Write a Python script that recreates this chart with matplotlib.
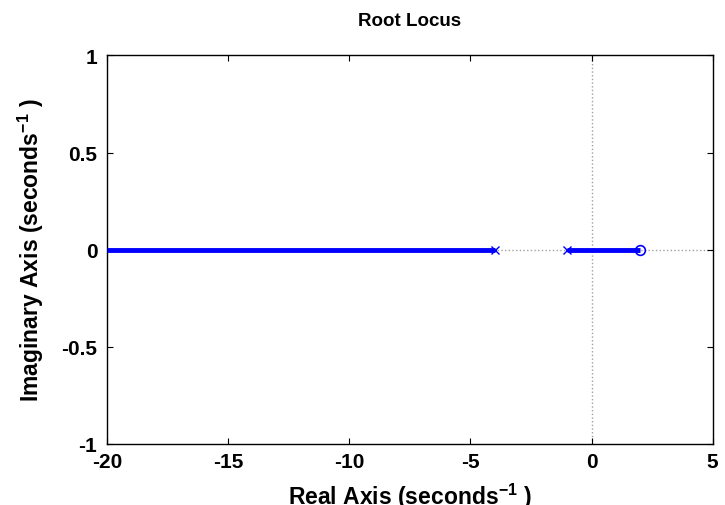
import matplotlib
matplotlib.use("Agg")
import matplotlib.pyplot as plt
import numpy as np

plt.rcParams['font.family'] = ['Liberation Sans', 'DejaVu Sans']
plt.rcParams['font.weight'] = 'bold'
plt.rcParams['mathtext.fontset'] = 'custom'
plt.rcParams['mathtext.rm'] = 'Liberation Sans:bold'
plt.rcParams['mathtext.it'] = 'Liberation Sans:bold'
plt.rcParams['mathtext.bf'] = 'Liberation Sans:bold'

# root locus branches on the real axis
branch1_re = [-20, -4]
branch2_re = [-1, 2]
poles_re = [-4, -1]
zeros_re = [2]

xticks = [-20, -15, -10, -5, 0, 5]
yticks = [-1, -0.5, 0, 0.5, 1]

fig = plt.figure(figsize=(7.25, 5.06), dpi=100)
ax = fig.add_axes([0.1476, 0.1206, 0.8354, 0.768])

# dotted axis lines
ax.axhline(0, color='#a0a0a0', linestyle=':', linewidth=1, zorder=1)
ax.axvline(0, color='#a0a0a0', linestyle=':', linewidth=1, zorder=1)

ax.plot(branch1_re, [0, 0], color='blue', linewidth=3.5, solid_capstyle='butt', zorder=3)
ax.plot(branch2_re, [0, 0], color='blue', linewidth=3.5, solid_capstyle='butt', zorder=3)
ax.plot(poles_re, [0] * len(poles_re), linestyle='none', marker='x', color='blue',
        markersize=6, markeredgewidth=1.0, zorder=4)
ax.plot(zeros_re, [0] * len(zeros_re), linestyle='none', marker='o', markerfacecolor='none',
        markeredgecolor='blue', markersize=7, markeredgewidth=1.2, zorder=4)

ax.set_xlim(-20, 5)
ax.set_ylim(-1, 1)
ax.set_xticks(xticks)
ax.set_xticklabels([str(t) for t in xticks])
ax.set_yticks(yticks)
ax.set_yticklabels(['-1', '-0.5', '0', '0.5', '1'])
ax.tick_params(direction='in', top=True, right=True, labelsize=15, length=4)
ax.tick_params(axis='x', pad=6)
ax.tick_params(axis='y', pad=7)
for s in ax.spines.values():
    s.set_linewidth(1)

ax.set_title('Root Locus', fontsize=13.5, fontweight='bold', pad=22)
ax.set_xlabel(r'Real Axis (seconds$^{-1}$ )', fontsize=16.5, fontweight='bold', labelpad=7)
ax.set_ylabel(r'Imaginary Axis (seconds$^{-1}$ )', fontsize=16.5, fontweight='bold', labelpad=11)

plt.savefig('out.png', dpi=100)
